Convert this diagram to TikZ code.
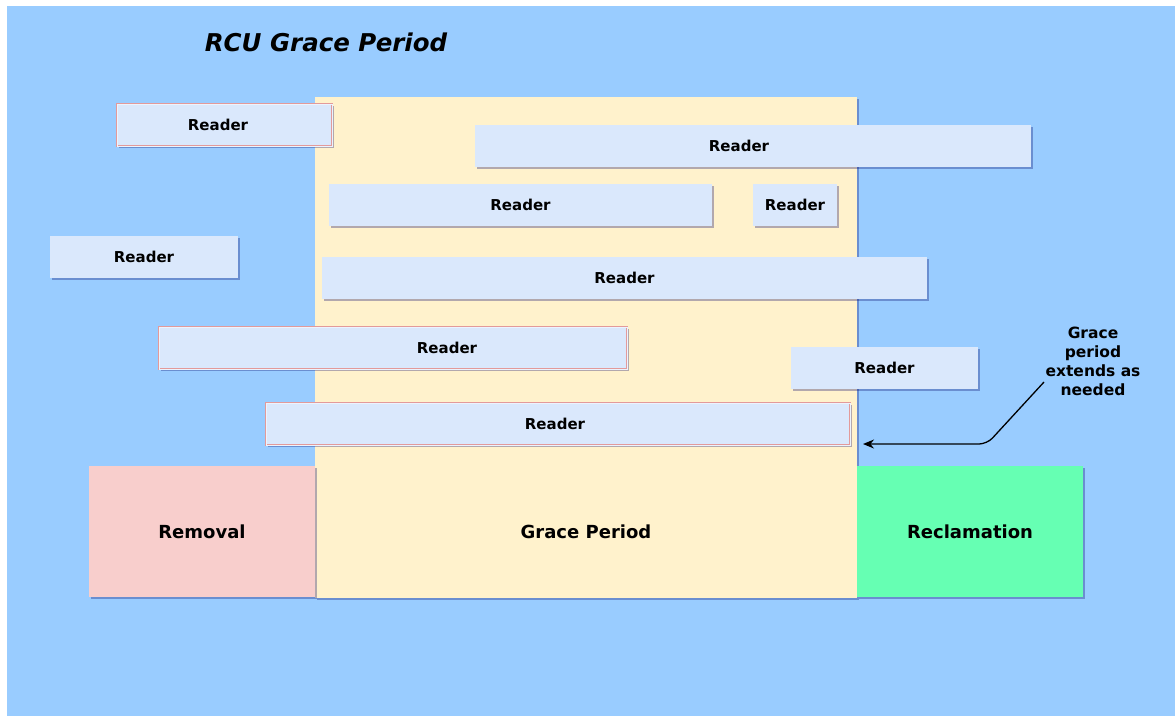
\documentclass[tikz,border=0pt]{standalone}
\usepackage{fontspec}
\setmainfont{DejaVu Sans}
\usetikzlibrary{shadows,arrows.meta}

\definecolor{bgblue}{HTML}{99CCFF}
\definecolor{gpyellow}{HTML}{FFF2CC}
\definecolor{readerblue}{HTML}{DAE8FC}
\definecolor{rmred}{HTML}{F8CECC}
\definecolor{rcgreen}{HTML}{66FFB3}
\definecolor{edgered}{HTML}{E39A9A}

\tikzstyle{boxed} = [rectangle, inner sep=0pt,
    drop shadow={shadow xshift=2pt, shadow yshift=-2pt, fill=black!60!blue, opacity=0.3}]
\tikzstyle{phase} = [boxed, minimum width=226, minimum height=131, font=\fontsize{18}{22}\selectfont\bfseries]
\tikzstyle{phaselbl} = [font=\fontsize{18}{22}\selectfont\bfseries]
\tikzstyle{reader} = [boxed, fill=readerblue, minimum height=42, font=\fontsize{15}{18}\selectfont\bfseries]
\tikzstyle{late} = [draw=edgered, double=readerblue!50!white, double distance=0.9pt, line width=0.9pt]

\begin{document}
\begin{tikzpicture}[x=1pt, y=-1pt]
\useasboundingbox (0,0) rectangle (1175,716);
\fill[bgblue] (7,6) rectangle (1175,716);
\node[font=\fontsize{24.5}{29}\selectfont\bfseries\itshape] (title) at (326,42) {RCU Grace Period};
\node[boxed, fill=gpyellow, minimum width=542, minimum height=501] (grace) at (586,347.5) {};
\node[phase, fill=rmred] (removal) at (202,531.5) {Removal};
\node[phase, fill=rcgreen] (reclaim) at (970,531.5) {Reclamation};
\node[phaselbl] (gracelbl) at (grace.center |- removal) {Grace Period};
\node[reader, late, minimum width=215] (r1) at (224.5,125) {Reader\kern13pt};
\node[reader, minimum width=556] (r2) at (753,146) {Reader\kern28pt};
\node[reader, minimum width=383] (r3) at (520.5,205) {Reader};
\node[reader, minimum width=84] (r4) at (795,205) {Reader};
\node[reader, minimum width=188] (r5) at (144,257) {Reader};
\node[reader, minimum width=605] (r6) at (624.5,278) {Reader};
\node[reader, late, minimum width=468] (r7) at (393,348) {\hspace{108pt}Reader};
\node[reader, minimum width=187] (r8) at (884.5,368) {Reader};
\node[reader, late, minimum width=584] (r9) at (558,424) {Reader\kern6pt};
\node[align=center, font=\fontsize{15.5}{19}\selectfont\bfseries] (note) at (1093,361) {Grace\\period\\extends as\\needed};
\coordinate (notetail) at (1044,382);
\coordinate (gpend) at (863,444);
\draw[-{Stealth[length=11pt,width=9pt]}, line width=1.3pt, rounded corners=8pt] (notetail) -- ++(-57,62) -- (gpend);
\end{tikzpicture}
\end{document}
